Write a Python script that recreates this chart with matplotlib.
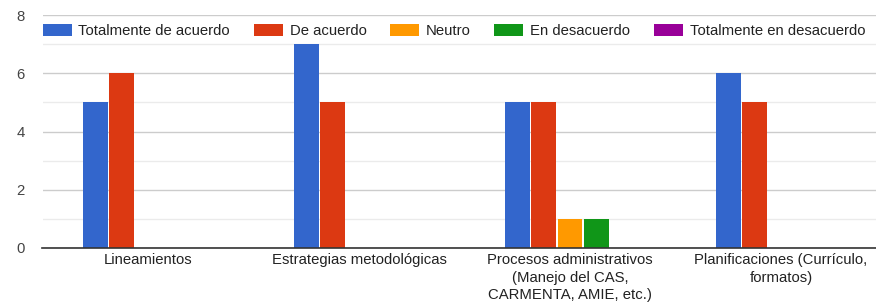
import matplotlib
matplotlib.use("Agg")
import matplotlib.pyplot as plt
import numpy as np

categories = ["Lineamientos", "Estrategias metodológicas",
              "Procesos administrativos\n(Manejo del CAS,\nCARMENTA, AMIE, etc.)",
              "Planificaciones (Currículo,\nformatos)"]
series_names = ["Totalmente de acuerdo", "De acuerdo", "Neutro", "En desacuerdo",
                "Totalmente en desacuerdo"]
totalmente_de_acuerdo = [5, 7, 5, 6]
de_acuerdo = [6, 5, 5, 5]
neutro = [0, 0, 1, 0]
en_desacuerdo = [0, 0, 1, 0]
totalmente_en_desacuerdo = [0, 0, 0, 0]
values = [totalmente_de_acuerdo, de_acuerdo, neutro, en_desacuerdo, totalmente_en_desacuerdo]
colors = ["#3366cc", "#dc3912", "#ff9900", "#109618", "#990099"]
y_ticks = [0, 2, 4, 6, 8]

plt.rcParams['font.family'] = ['Liberation Sans', 'DejaVu Sans']
FS = 10.7

W, H = 876, 308
fig = plt.figure(figsize=(W / 100, H / 100), dpi=100)
ax = fig.add_axes([42.5 / W, 60.3 / H, 844 / W, 232.4 / H])

x = np.arange(len(categories))
pitch = 0.1247
bw = 0.117
n = len(series_names)
for i, (name, vals, c) in enumerate(zip(series_names, values, colors)):
    off = (i - (n - 1) / 2) * pitch
    ax.bar(x + off, vals, width=bw, color=c, label=name, linewidth=0, zorder=3)

ax.set_xlim(-0.5, len(categories) - 0.5)
ax.set_ylim(0, 8)
ax.set_yticks(y_ticks)
ax.set_yticks([1, 3, 5, 7], minor=True)
ax.grid(axis='y', which='major', color='#cccccc', linewidth=1, zorder=0)
ax.grid(axis='y', which='minor', color='#ebebeb', linewidth=1, zorder=0)
ax.set_axisbelow(True)
for s in ['top', 'right', 'left']:
    ax.spines[s].set_visible(False)
ax.spines['bottom'].set_color('#333333')
ax.spines['bottom'].set_linewidth(1.2)
ax.spines['bottom'].set_zorder(4)
ax.tick_params(axis='y', which='both', length=0, pad=13, labelsize=FS, labelcolor='#444444')
ax.tick_params(axis='x', length=0, pad=4, labelsize=FS, labelcolor='#222222')
ax.set_xticks(x)
ax.set_xticklabels(categories, linespacing=1.3)

fs_px = FS * 100 / 72
leg = ax.legend(loc='center left', bbox_to_anchor=(0, 7.45 / 8), ncol=5, frameon=False,
                borderaxespad=0, borderpad=0, handlelength=29 / fs_px, handleheight=13 / fs_px,
                handletextpad=7 / fs_px, columnspacing=23.5 / fs_px, fontsize=FS)
for t in leg.get_texts():
    t.set_color('#222222')

fig.savefig("out.png", dpi=100)
